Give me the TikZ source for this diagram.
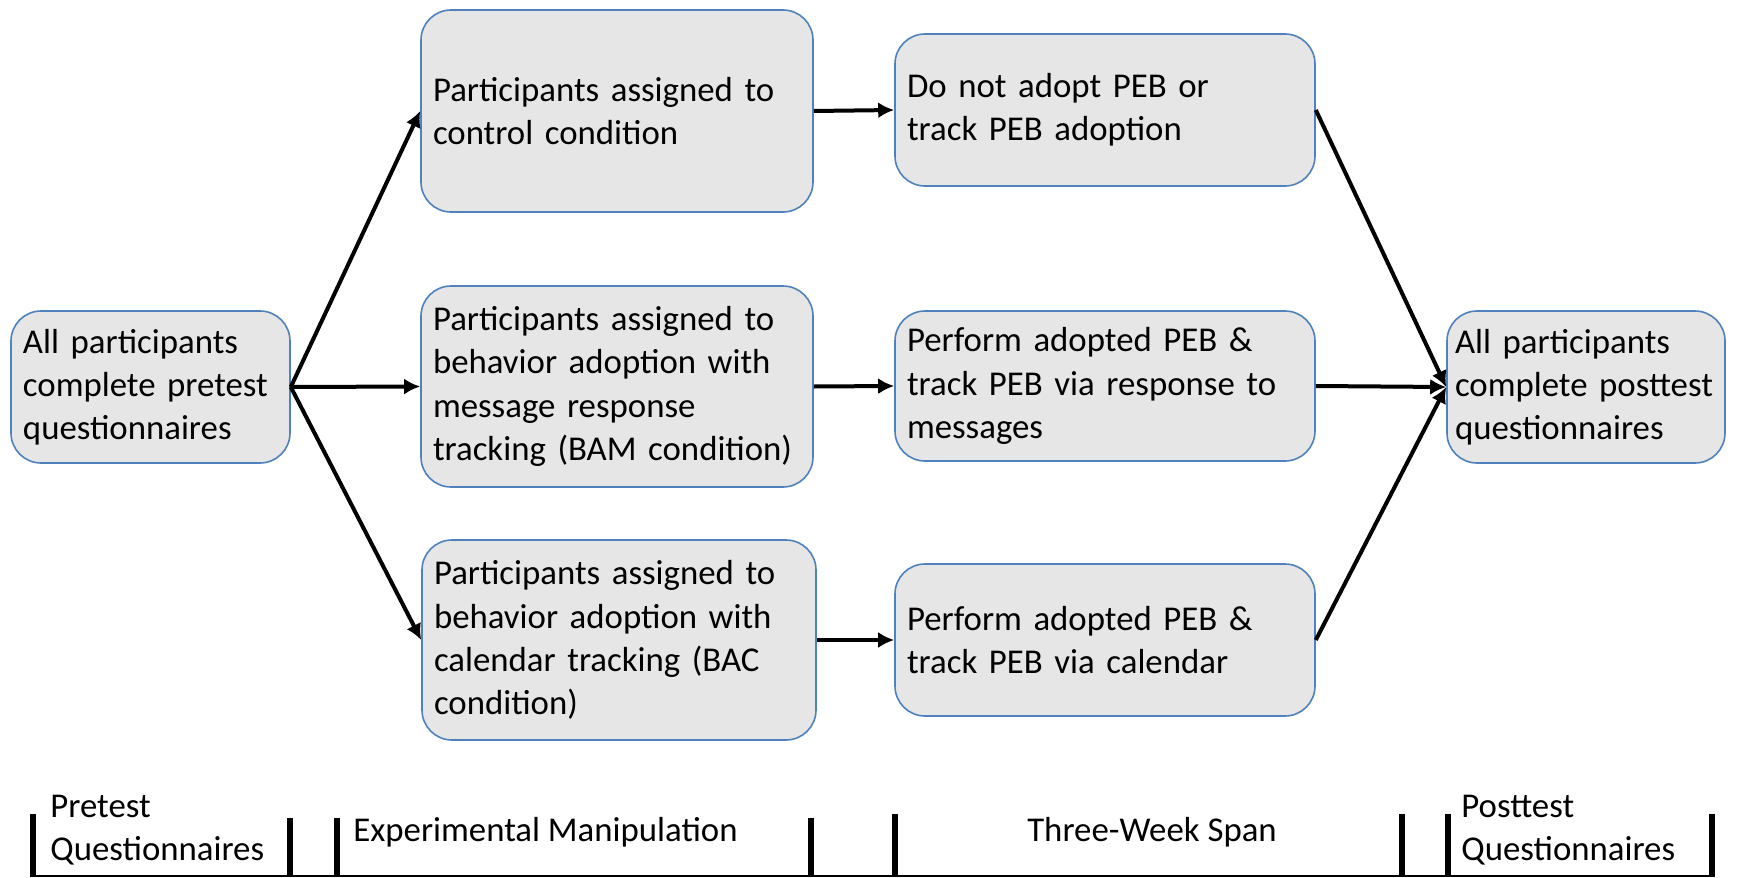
\documentclass[tikz,border=0pt]{standalone}
\usepackage{fontspec}
\setmainfont{Carlito}
\usetikzlibrary{arrows.meta}
\definecolor{boxfill}{RGB}{230,230,230}
\definecolor{boxline}{RGB}{79,129,189}
\tikzset{
  stage/.style={draw=boxline, fill=boxfill, line width=0.8pt, rounded corners=15pt,
    align=left, inner xsep=6pt, font=\fontsize{17.4}{21.6}\selectfont},
  flow/.style={-{Latex[length=8pt,width=8pt]}, line width=2pt},
  phase/.style={inner sep=0pt, align=left, font=\fontsize{17.4}{21.6}\selectfont},
  tick/.style={line width=2.6pt}
}
\begin{document}
\begin{tikzpicture}[x=0.5pt,y=-0.5pt]
\useasboundingbox (0,0) rectangle (1737,878);
\path
(150.5,387) node [stage, text width=127.5pt, minimum height=76pt] (pre) {All participants\\complete pretest\\questionnaires}
(617,111) node [stage, text width=184pt, minimum height=101pt] (ctrl) {Participants assigned to\\control condition\\[4pt]}
(617,386.5) node [stage, text width=184pt, minimum height=100.5pt] (bam) {Participants assigned to\\behavior adoption with\\message response\\tracking (BAM condition)}
(619,640) node [stage, text width=185pt, minimum height=100pt] (bac) {Participants assigned to\\behavior adoption with\\calendar tracking (BAC\\condition)}
(1105,110) node [stage, text width=198pt, minimum height=76pt] (noadopt) {Do not adopt PEB or\\track PEB adoption}
(1105,386) node [stage, text width=198pt, minimum height=75pt] (response) {Perform adopted PEB \&\\track PEB via response to\\messages}
(1105,640) node [stage, text width=198pt, minimum height=76pt] (calendar) {Perform adopted PEB \&\\track PEB via calendar}
(1586,387) node [stage, inner xsep=4pt, text width=131pt, minimum height=76pt] (post) {All participants\\complete~posttest\\questionnaires\\[2pt]};

\draw[flow] (pre.east) -- (ctrl.west);
\draw[flow] (pre.east) -- (bam.west);
\draw[flow] (pre.east) -- (bac.west);
\draw[flow] (ctrl.east) -- (noadopt.west);
\draw[flow] (bam.east) -- (response.west);
\draw[flow] (bac.east) -- (calendar.west);
\draw[flow] (noadopt.east) -- (post.west);
\draw[flow] (response.east) -- (post.west);
\draw[flow] (calendar.east) -- (post.west);

% time line
\draw[line width=1.2pt] (31,876) -- (1714,876);
\foreach \x/\y in {33/814, 290/818, 337/818, 811/818, 895/814, 1402/814, 1448/814, 1712/814}
  \draw[tick] (\x,\y) -- (\x,877);
\path
(50,830) node [phase, anchor=west] (pretime) {Pretest\\Questionnaires}
(353,832) node [phase, anchor=west] (manip) {Experimental Manipulation}
(1152,832) node [phase] (span) {Three-Week Span}
(1461,830) node [phase, anchor=west] (posttime) {Posttest\\Questionnaires};
\end{tikzpicture}
\end{document}
